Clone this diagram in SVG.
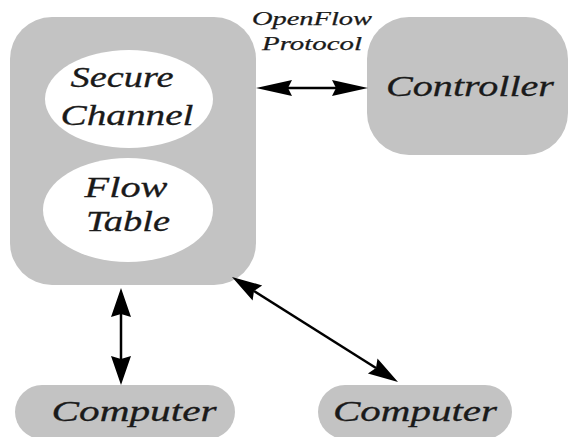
<svg xmlns="http://www.w3.org/2000/svg" width="569" height="437" viewBox="0 0 569 437">
<style>
.box{fill:#c3c3c3}
.inner{fill:#ffffff}
.t{font-family:"Liberation Serif","DejaVu Serif",serif;font-style:italic;fill:#1a1a1a;text-anchor:middle;stroke:#1a1a1a;stroke-width:0.3}
.big{font-size:30px}
.small{font-size:19px;stroke-width:0.25}
.ln{stroke:#000;stroke-width:2.5;fill:none}
.hd{fill:#000}
</style>
<rect width="569" height="437" fill="#ffffff"/>
<g id="switch">
<rect class="box" x="10" y="17" width="246" height="268" rx="42" ry="42"/>
<g id="secure-channel">
<ellipse class="inner" cx="129" cy="99" rx="84" ry="49"/>
<text class="t big" x="122" y="87" textLength="103" lengthAdjust="spacingAndGlyphs">Secure</text>
<text class="t big" x="127" y="125" textLength="133" lengthAdjust="spacingAndGlyphs">Channel</text>
</g>
<g id="flow-table">
<ellipse class="inner" cx="128" cy="210" rx="85" ry="52"/>
<text class="t big" x="126" y="197" textLength="83" lengthAdjust="spacingAndGlyphs">Flow</text>
<text class="t big" x="128" y="231" textLength="84" lengthAdjust="spacingAndGlyphs">Table</text>
</g>
</g>
<g id="controller">
<rect class="box" x="367" y="17" width="201" height="138" rx="42" ry="42"/>
<text class="t big" x="470" y="96" textLength="168" lengthAdjust="spacingAndGlyphs">Controller</text>
</g>
<g id="computer1">
<rect class="box" x="15" y="385" width="220" height="54" rx="27" ry="27"/>
<text class="t big" x="134" y="421" textLength="165" lengthAdjust="spacingAndGlyphs">Computer</text>
</g>
<g id="computer2">
<rect class="box" x="318" y="385" width="194" height="54" rx="27" ry="27"/>
<text class="t big" x="415" y="421" textLength="164" lengthAdjust="spacingAndGlyphs">Computer</text>
</g>
<g id="connectors">
<g id="openflow">
<line class="ln" x1="280" y1="88" x2="344" y2="88"/>
<polygon class="hd" points="256,88 292,80 288,88 292,96"/>
<polygon class="hd" points="368,88 332,80 336,88 332,96"/>
<text class="t small" x="312" y="25" textLength="120" lengthAdjust="spacingAndGlyphs">OpenFlow</text>
<text class="t small" x="312" y="50" textLength="100" lengthAdjust="spacingAndGlyphs">Protocol</text>
</g>
<g id="vertical">
<line class="ln" x1="121" y1="305" x2="121" y2="368"/>
<polygon class="hd" points="121,288 111,317 121,314 131,317"/>
<polygon class="hd" points="121,385 111,356 121,359 131,356"/>
</g>
<g id="diagonal">
<line class="ln" x1="254" y1="291" x2="376" y2="368"/>
<polygon class="hd" points="232,277 252.6,300.6 254,290.9 262.2,285.4"/>
<polygon class="hd" points="398,382 367.9,373.6 376,368.1 377.5,358.4"/>
</g>
</g>
</svg>
